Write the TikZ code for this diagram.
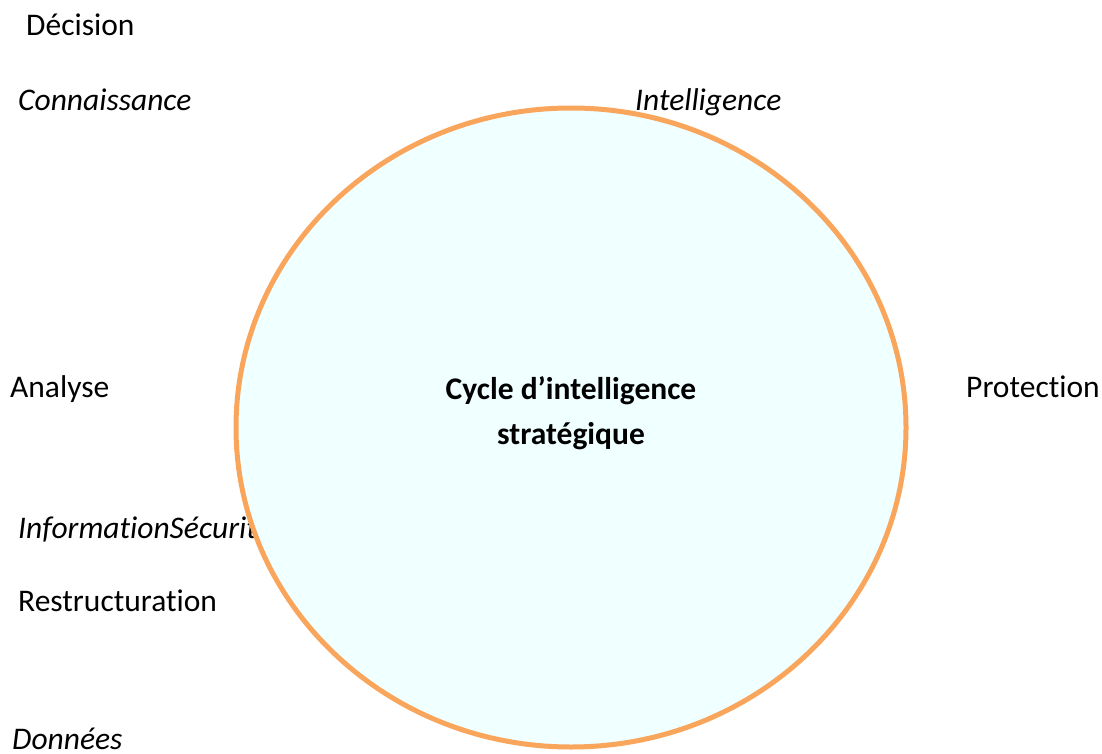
\documentclass[tikz,border=0pt]{standalone}
\usepackage{fontspec}
\setmainfont{Carlito}[Ligatures={NoCommon}]
\usetikzlibrary{shapes,positioning,calc}
\definecolor{cycleorange}{HTML}{F9A55C}
\definecolor{cyclefill}{HTML}{F0FFFF}

\begin{document}
\begin{tikzpicture}[x=1pt,y=-1pt,
term/.style={
% The anchor:
anchor=base west,inner sep=0pt,
% Font
font=\fontsize{31.5}{38}\selectfont
},
iterm/.style={term,font=\fontsize{31.5}{38}\selectfont\itshape},
cycle/.style={
% The shape:
ellipse,
% The size:
minimum width=670pt,minimum height=639pt,
% The border:
line width=5pt,draw=cycleorange,
% The filling:
fill=cyclefill
},
title/.style={align=center,inner sep=0pt,
font=\fontsize{31.5}{45}\selectfont\bfseries}]

\useasboundingbox (0,0) rectangle (1102,754);

\node (info) [iterm] at (18,538) {InformationSécurité};
\node (cyc) [cycle] at (571,427.5) {};
\node (title) [title] at (571,413) {Cycle d’intelligence\\ stratégique};

\node (dec) [term] at (26,36) {Décision};
\node (conn) [iterm] at (18,111) {Connaissance};
\node (intel) [iterm] at (635,111) {Intelligence};
\node (ana) [term] at (10,397) {Analyse};
\node (prot) [term] at (966,397) {Protection};
\node (restr) [term] at (18,611) {Restructuration};
\node (donn) [iterm] at (12,749) {Données};
\end{tikzpicture}
\end{document}
